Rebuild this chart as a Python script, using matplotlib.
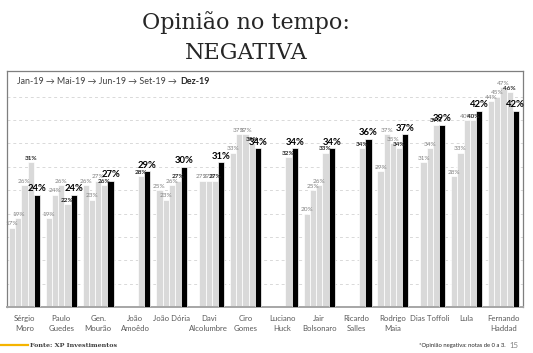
import numpy as np
import matplotlib.pyplot as plt
from matplotlib.lines import Line2D

# candidates and the five survey waves (Jan, Mai, Jun, Set, Dez 2019)
names = ['Sérgio\nMoro', 'Paulo\nGuedes', 'Gen.\nMourão', 'João\nAmoêdo', 'João Dória',
         'Davi\nAlcolumbre', 'Ciro\nGomes', 'Luciano\nHuck', 'Jair\nBolsonaro',
         'Ricardo\nSalles', 'Rodrigo\nMaia', 'Dias Toffoli', 'Lula', 'Fernando\nHaddad']
waves = ['Jan-19', 'Mai-19', 'Jun-19', 'Set-19', 'Dez-19']
jan = [17, 19, 26, None, 25, None, 33, None, 20, None, 29, None, 28, 44]
mai = [19, 24, 23, None, 23, 27, 37, None, 25, None, 37, 31, 33, 45]
jun = [26, 26, 27, None, 26, 27, 37, None, 26, None, 35, 34, 40, 47]
sep = [31, 22, 26, 28, 27, 27, 35, 32, 33, 34, 34, 39, 40, 46]
dez = [24, 24, 27, 29, 30, 31, 34, 34, 34, 36, 37, 39, 42, 42]
series = [jan, mai, jun, sep, dez]

fig = plt.figure(figsize=(5.33, 3.53), dpi=100)
ax = fig.add_axes([0.0131, 0.1303, 0.9681, 0.6686])

x = np.arange(len(names))
w = 0.168
lab = ['Lato', 'DejaVu Sans']
for k, vals in enumerate(series):
    xs = [xi + (k - 2) * w for xi, v in zip(x, vals) if v is not None]
    vs = [v for v in vals if v is not None]
    if k == 4:
        ax.bar(xs, vs, w, color='black', edgecolor='white', linewidth=0.5, zorder=3)
    else:
        ax.bar(xs, vs, w, color='#d9d9d9', edgecolor='white', linewidth=0.5, zorder=2)
for k, vals in enumerate(series):
    for xi, v in zip(x, vals):
        if v is None:
            continue
        if k == 4:
            c, fw, fs = 'black', 'bold', 6.8
        elif k == 3:
            c, fw, fs = '#262626', 'bold', 4.6
        else:
            c, fw, fs = '#808080', 'normal', 4.6
        ax.annotate(f'{v}%', (xi + (k - 2) * w, v), xytext=(0, 1),
                    textcoords='offset points', ha='center', va='bottom',
                    color=c, fontweight=fw, fontsize=fs, family=lab, zorder=5)

ax.set_xlim(-0.474, 13.53)
ax.set_ylim(0, 50.5)
ax.set_yticks(np.arange(5, 50, 5))
ax.yaxis.grid(True, linestyle=(0, (3, 3)), color='#d9d9d9', linewidth=0.7)
ax.set_axisbelow(True)
ax.tick_params(axis='y', left=False, labelleft=False)
ax.set_xticks(x)
ax.set_xticklabels(names, fontsize=5.6, color='#595959', family=lab, linespacing=1.45)
ax.tick_params(axis='x', length=0, pad=6)
for s in ['top', 'left', 'right']:
    ax.spines[s].set_color('#7f7f7f')
    ax.spines[s].set_linewidth(0.9)
ax.spines['bottom'].set_color('#a6a6a6')
ax.spines['bottom'].set_linewidth(1.4)

# legend line of waves
t1 = ax.text(0.019, 0.937, ' → '.join(waves[:4]) + ' →', transform=ax.transAxes,
             fontsize=6.4, color='#404040', family=lab, va='bottom')
ax.annotate(waves[4], xy=(1, 0), xycoords=t1, xytext=(2.5, 0), textcoords='offset points',
            fontsize=6.4, color='#262626', fontweight='bold', family=lab, va='bottom')

fig.text(0.461, 0.935, 'Opinião no tempo:', ha='center', va='center',
         fontsize=16, family='DejaVu Serif', color='#262626')
fig.text(0.461, 0.85, 'NEGATIVA', ha='center', va='center',
         fontsize=16, family='DejaVu Serif', color='#262626')

fig.add_artist(Line2D([0.0, 0.053], [0.022, 0.022], color='#f5b400', linewidth=1.6))
fig.text(0.057, 0.022, 'Fonte: XP Investimentos', fontsize=4.6, family='DejaVu Serif',
         fontweight='bold', color='#404040', va='center')
fig.text(0.948, 0.022, '*Opinião negativa: notas de 0 a 3.', fontsize=4.2, family=lab,
         color='#262626', va='center', ha='right')
fig.text(0.955, 0.022, '15', fontsize=5.6, family=lab, color='#808080', va='center')

fig.savefig('out.png', dpi=100)
